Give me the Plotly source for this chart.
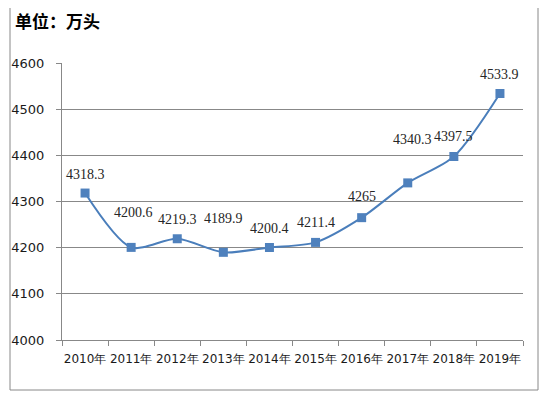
import plotly.graph_objects as go

years = ["2010年", "2011年", "2012年", "2013年", "2014年", "2015年", "2016年", "2017年", "2018年", "2019年"]
values = [4318.3, 4200.6, 4219.3, 4189.9, 4200.4, 4211.4, 4265, 4340.3, 4397.5, 4533.9]
labels = ["4318.3", "4200.6", "4219.3", "4189.9", "4200.4", "4211.4", "4265", "4340.3", "4397.5", "4533.9"]
label_yshift = [19, 35, 19, 34, 19, 20, 21, 43, 20, 19]
label_xshift = [0, 2, 0, 0, 0, 0, 0, 5, 0, 0]

fig = go.Figure()
fig.add_trace(go.Scatter(
    x=years, y=values, mode="lines+markers",
    line=dict(color="#4A7EBB", width=2, shape="spline", smoothing=0.8),
    marker=dict(symbol="square", size=9, color="#4F81BD"),
    hoverinfo="skip", showlegend=False,
))

for x, y, t, ys, xs in zip(years, values, labels, label_yshift, label_xshift):
    fig.add_annotation(x=x, y=y, text=t, showarrow=False, xanchor="center", yanchor="middle",
                       yshift=ys, xshift=xs,
                       font=dict(family="Liberation Serif", size=14, color="#262626"))

fig.add_annotation(xref="paper", yref="paper", x=0, y=1, xshift=-49, yshift=43,
                   xanchor="left", yanchor="middle", text="<b>单位：万头</b>", showarrow=False,
                   font=dict(family="Noto Sans CJK SC", size=17, color="#000000"))

fig.add_shape(type="rect", xref="paper", yref="paper",
              x0=-52/461, x1=1 + 15/461, y0=-50/277, y1=1 + 57/277,
              line=dict(color="#888888", width=1), fillcolor="rgba(0,0,0,0)")

fig.update_layout(
    width=544, height=391,
    margin=dict(l=54, r=29, t=55, b=59, autoexpand=False),
    paper_bgcolor="white", plot_bgcolor="white",
    xaxis=dict(type="category", range=[-0.5, 9.5], showgrid=False, automargin=False,
               showline=True, linecolor="#888888", linewidth=1, tickangle=0,
               ticks="outside", tickson="boundaries", ticklen=5, tickcolor="#888888",
               ticklabelstandoff=8,
               tickfont=dict(family="DejaVu Sans", size=12, color="#1a1a1a")),
    yaxis=dict(range=[4000, 4600], dtick=100, showgrid=True, gridcolor="#888888", gridwidth=1,
               showline=True, linecolor="#888888", linewidth=1, zeroline=False, automargin=False,
               ticks="outside", ticklen=5, tickcolor="#888888", ticklabelstandoff=9,
               tickfont=dict(family="DejaVu Sans", size=13, color="#1a1a1a")),
)

fig.write_html("out.html")
